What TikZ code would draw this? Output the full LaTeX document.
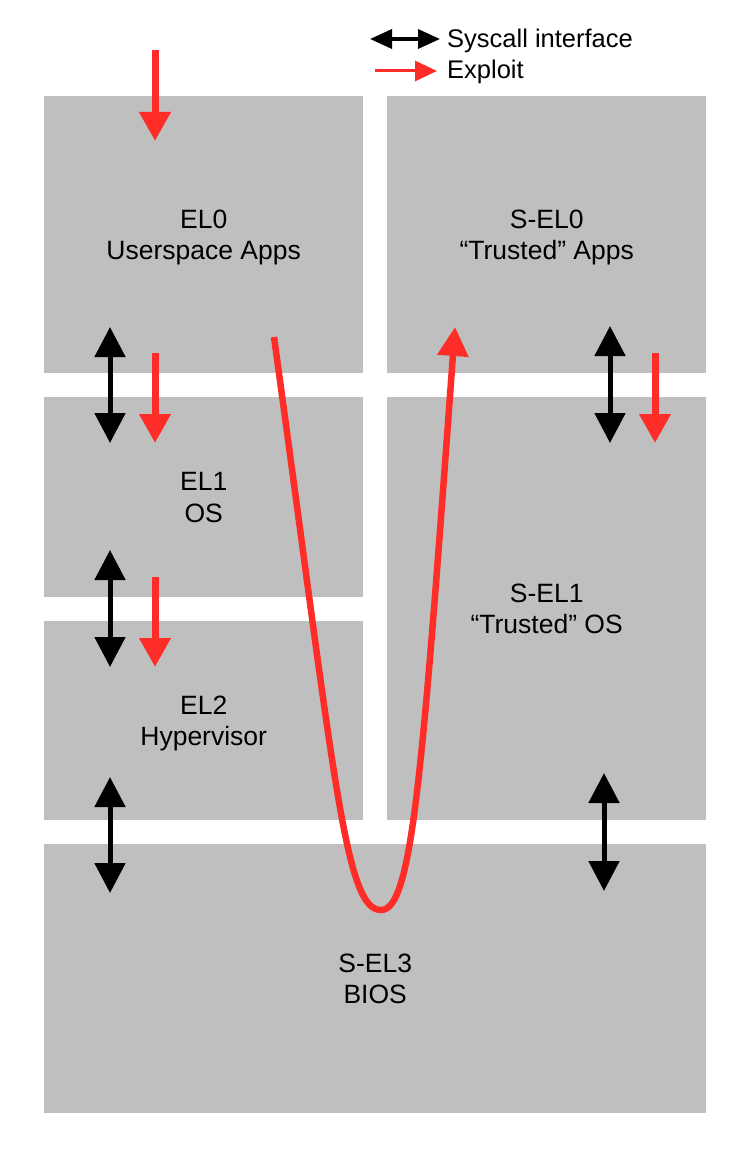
\documentclass[tikz,border=0pt]{standalone}
\usepackage{fontspec}
\setmainfont{Liberation Sans}
\usetikzlibrary{arrows.meta}
\definecolor{boxgray}{RGB}{191,191,191}
\definecolor{exred}{RGB}{255,45,40}
\tikzset{
  layer/.style={fill=boxgray, draw=none, anchor=north west, inner sep=0pt,
    align=center, font=\fontsize{26.5}{31.5}\selectfont, text depth=0pt},
  syscall/.style={black, line width=5pt,
    {Triangle[length=30pt,width=30pt]}-{Triangle[length=30pt,width=30pt]}},
  exploit/.style={exred, line width=7pt, -{Triangle[length=29pt,width=30pt]}},
  legsys/.style={black, line width=3.5pt,
    {Triangle[length=22pt,width=19pt]}-{Triangle[length=22pt,width=19pt]}},
  legexp/.style={exred, line width=3pt, -{Triangle[length=22pt,width=20pt]}},
  legtext/.style={anchor=west, inner sep=0pt, font=\fontsize{25.5}{30}\selectfont},
}
\begin{document}
\begin{tikzpicture}[x=1pt,y=-1pt]
\useasboundingbox (0,0) rectangle (750,1150);
% layers
\node[layer, minimum width=319pt, minimum height=277pt] (el0) at (44,96) {EL0\\Userspace Apps};
\node[layer, minimum width=319pt, minimum height=277pt] (sel0) at (387,96) {S-EL0\\``Trusted'' Apps};
\node[layer, minimum width=319pt, minimum height=200pt] (el1) at (44,397) {EL1\\OS};
\node[layer, minimum width=319pt, minimum height=199pt] (el2) at (44,621) {EL2\\Hypervisor};
\node[layer, minimum width=319pt, minimum height=423pt] (sel1) at (387,397) {S-EL1\\``Trusted'' OS};
\node[layer, minimum width=662pt, minimum height=269pt] (sel3) at (44,844) {S-EL3\\BIOS};
% legend
\coordinate (lsA) at (370,39);
\coordinate (lsB) at (440,39);
\coordinate (leA) at (375,71);
\coordinate (leB) at (437,71);
\draw[legsys] (lsA) -- (lsB);
\draw[legexp] (leA) -- (leB);
\node[legtext] (lt1) at (447,41) {Syscall interface};
\node[legtext] (lt2) at (447,72) {Exploit};
% arrow end points
\coordinate (r0a) at (155,50);   \coordinate (r0b) at (155,141);
\coordinate (b1a) at (110,327);  \coordinate (b1b) at (110,443);
\coordinate (r1a) at (155,353);  \coordinate (r1b) at (155,443);
\coordinate (b2a) at (110,550);  \coordinate (b2b) at (110,667);
\coordinate (r2a) at (155,577);  \coordinate (r2b) at (155,667);
\coordinate (b3a) at (110,777);  \coordinate (b3b) at (110,893);
\coordinate (b4a) at (610,326);  \coordinate (b4b) at (610,443);
\coordinate (r4a) at (655,353);  \coordinate (r4b) at (655,443);
\coordinate (b5a) at (604,773);  \coordinate (b5b) at (604,891);
\draw[exploit] (r0a) -- (r0b);
\draw[syscall] (b1a) -- (b1b);
\draw[exploit] (r1a) -- (r1b);
\draw[syscall] (b2a) -- (b2b);
\draw[exploit] (r2a) -- (r2b);
\draw[syscall] (b3a) -- (b3b);
\draw[syscall] (b4a) -- (b4b);
\draw[exploit] (r4a) -- (r4b);
\draw[syscall] (b5a) -- (b5b);
% exploit curve
\coordinate (cs) at (274,337);
\coordinate (cb) at (381,910);
\coordinate (ce) at (455,327);
\draw[exred, line width=6.5pt, -{Triangle[length=29pt,width=30pt]}]
  (cs) .. controls (335,780) and (345,910) .. (cb)
       .. controls (412,910) and (422,780) .. (ce);
\end{tikzpicture}
\end{document}
